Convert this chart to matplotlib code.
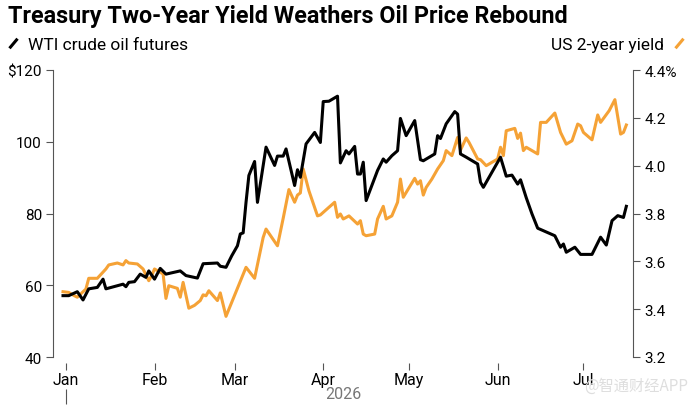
import pandas as pd
import matplotlib
matplotlib.use('Agg')
import matplotlib.pyplot as plt
import matplotlib.dates as mdates
from matplotlib.lines import Line2D

plt.rcParams['font.family'] = ['Roboto', 'DejaVu Sans']

# WTI crude oil futures ($/bbl)
oil_dates = ['2025-12-31', '2026-01-02', '2026-01-05', '2026-01-07', '2026-01-09', '2026-01-12',
             '2026-01-14', '2026-01-15', '2026-01-21', '2026-01-22', '2026-01-23', '2026-01-25',
             '2026-01-27', '2026-01-29', '2026-01-30', '2026-02-01', '2026-02-03', '2026-02-05',
             '2026-02-10', '2026-02-12', '2026-02-16', '2026-02-18', '2026-02-23', '2026-02-24',
             '2026-02-26', '2026-02-28', '2026-03-02', '2026-03-03', '2026-03-04', '2026-03-05',
             '2026-03-06', '2026-03-08', '2026-03-09', '2026-03-12', '2026-03-15', '2026-03-16',
             '2026-03-18', '2026-03-19', '2026-03-22', '2026-03-23', '2026-03-24', '2026-03-26',
             '2026-03-29', '2026-03-31', '2026-04-01', '2026-04-03', '2026-04-06', '2026-04-07',
             '2026-04-09', '2026-04-10', '2026-04-12', '2026-04-13', '2026-04-14', '2026-04-15',
             '2026-04-16', '2026-04-20', '2026-04-22', '2026-04-23', '2026-04-25', '2026-04-27',
             '2026-04-28', '2026-04-30', '2026-05-03', '2026-05-05', '2026-05-06', '2026-05-10',
             '2026-05-11', '2026-05-12', '2026-05-14', '2026-05-17', '2026-05-18', '2026-05-19',
             '2026-05-21', '2026-05-25', '2026-05-26', '2026-05-27', '2026-06-02', '2026-06-04',
             '2026-06-06', '2026-06-08', '2026-06-09', '2026-06-11', '2026-06-13', '2026-06-15',
             '2026-06-17', '2026-06-21', '2026-06-23', '2026-06-24', '2026-06-25', '2026-06-28',
             '2026-06-30', '2026-07-04', '2026-07-07', '2026-07-09', '2026-07-11', '2026-07-13',
             '2026-07-15', '2026-07-16']
oil_price = [57.1, 57.1, 58.2, 55.9, 59.0, 59.4,
             61.7, 59.0, 60.3, 59.6, 60.8, 61.0,
             63.1, 62.2, 64.0, 61.7, 64.7, 63.1,
             64.0, 62.7, 62.0, 66.0, 66.2, 65.3,
             65.0, 68.2, 71.0, 74.3, 74.6, 83.1,
             90.6, 94.5, 83.1, 98.5, 93.4, 96.0,
             96.0, 98.0, 87.8, 92.2, 90.1, 99.4,
             102.6, 99.8, 111.2, 111.3, 112.7, 94.1,
             97.5, 96.6, 98.7, 91.0, 91.0, 94.3,
             83.6, 92.0, 95.2, 94.3, 96.1, 97.5,
             106.5, 101.7, 105.9, 95.0, 94.7, 96.6,
             101.7, 100.9, 105.0, 108.4, 107.7, 96.6,
             95.7, 93.8, 88.7, 87.3, 95.7, 90.4,
             90.7, 88.2, 89.4, 84.4, 79.9, 75.9,
             75.2, 73.8, 70.6, 71.5, 69.2, 70.6,
             68.6, 68.6, 73.4, 71.2, 78.0, 79.4,
             78.9, 82.0]

# US 2-year Treasury yield (%)
yield_dates = ['2025-12-31', '2026-01-02', '2026-01-04', '2026-01-05', '2026-01-08', '2026-01-09',
               '2026-01-12', '2026-01-15', '2026-01-16', '2026-01-19', '2026-01-21', '2026-01-22',
               '2026-01-23', '2026-01-26', '2026-01-28', '2026-01-30', '2026-01-31', '2026-02-01',
               '2026-02-02', '2026-02-04', '2026-02-05', '2026-02-06', '2026-02-09', '2026-02-10',
               '2026-02-11', '2026-02-13', '2026-02-15', '2026-02-17', '2026-02-18', '2026-02-19',
               '2026-02-20', '2026-02-23', '2026-02-24', '2026-02-26', '2026-03-05', '2026-03-08',
               '2026-03-11', '2026-03-12', '2026-03-16', '2026-03-18', '2026-03-20', '2026-03-22',
               '2026-03-23', '2026-03-24', '2026-03-25', '2026-03-27', '2026-03-30', '2026-03-31',
               '2026-04-03', '2026-04-05', '2026-04-06', '2026-04-07', '2026-04-08', '2026-04-10',
               '2026-04-13', '2026-04-14', '2026-04-15', '2026-04-16', '2026-04-19', '2026-04-20',
               '2026-04-22', '2026-04-23', '2026-04-25', '2026-04-27', '2026-04-28', '2026-04-29',
               '2026-05-03', '2026-05-04', '2026-05-05', '2026-05-06', '2026-05-07', '2026-05-09',
               '2026-05-11', '2026-05-13', '2026-05-14', '2026-05-16', '2026-05-18', '2026-05-19',
               '2026-05-21', '2026-05-22', '2026-05-25', '2026-05-26', '2026-05-28', '2026-06-01',
               '2026-06-02', '2026-06-03', '2026-06-04', '2026-06-07', '2026-06-08', '2026-06-09',
               '2026-06-10', '2026-06-11', '2026-06-15', '2026-06-16', '2026-06-18', '2026-06-21',
               '2026-06-23', '2026-06-25', '2026-06-27', '2026-06-29', '2026-06-30', '2026-07-01',
               '2026-07-04', '2026-07-06', '2026-07-07', '2026-07-10', '2026-07-12', '2026-07-14',
               '2026-07-15', '2026-07-16']
yield_pct = [3.473, 3.470, 3.456, 3.450, 3.484, 3.529,
             3.529, 3.568, 3.585, 3.593, 3.585, 3.603,
             3.593, 3.589, 3.568, 3.519, 3.540, 3.568,
             3.561, 3.547, 3.445, 3.498, 3.487, 3.450,
             3.512, 3.404, 3.416, 3.436, 3.460, 3.456,
             3.477, 3.436, 3.468, 3.370, 3.575, 3.529,
             3.700, 3.735, 3.665, 3.780, 3.900, 3.847,
             3.877, 3.886, 3.986, 3.895, 3.790, 3.794,
             3.826, 3.847, 3.784, 3.798, 3.777, 3.790,
             3.756, 3.770, 3.714, 3.707, 3.714, 3.777,
             3.830, 3.777, 3.790, 3.847, 3.944, 3.868,
             3.947, 3.923, 3.937, 3.877, 3.909, 3.944,
             3.986, 4.021, 4.063, 4.042, 4.118, 4.065,
             4.116, 4.097, 4.028, 4.025, 4.000, 4.028,
             4.077, 4.042, 4.146, 4.156, 4.114, 4.136,
             4.063, 4.077, 4.049, 4.181, 4.181, 4.220,
             4.139, 4.090, 4.104, 4.174, 4.167, 4.139,
             4.108, 4.212, 4.181, 4.230, 4.276, 4.132,
             4.139, 4.170]

month_starts = ['2026-01-01', '2026-02-01', '2026-03-01', '2026-04-01',
                '2026-05-01', '2026-06-01', '2026-07-01']
month_labels = ['Jan', 'Feb', 'Mar', 'Apr', 'May', 'Jun', 'Jul']
oil_ticks = [40, 60, 80, 100, 120]
oil_tick_labels = ['40', '60', '80', '100', '$120']
yield_ticks = [3.2, 3.4, 3.6, 3.8, 4.0, 4.2, 4.4]
yield_tick_labels = ['3.2', '3.4', '3.6', '3.8', '4.0', '4.2', '4.4%']

orange = '#f5a236'
axis_grey = '#555555'

fig = plt.figure(figsize=(6.9, 4.06), dpi=100)
ax = fig.add_axes([53 / 690, 1 - 358 / 406, 580 / 690, 287 / 406])
ax2 = ax.twinx()

ax2.plot(pd.to_datetime(yield_dates), yield_pct, color=orange, lw=2.2)
ax.plot(pd.to_datetime(oil_dates), oil_price, color='black', lw=2.2)
ax.set_zorder(ax2.get_zorder() + 1)
ax.patch.set_visible(False)

ax.set_xlim(pd.Timestamp('2025-12-27 12:00'), pd.Timestamp('2026-07-18 08:00'))
ax.set_ylim(40, 120)
ax2.set_ylim(3.2, 4.4)

for s in ['top', 'right', 'bottom']:
    ax.spines[s].set_visible(False)
for s in ['top', 'left', 'bottom']:
    ax2.spines[s].set_visible(False)
ax.spines['left'].set_color(axis_grey)
ax2.spines['right'].set_color(axis_grey)

ax.set_yticks(oil_ticks)
ax.set_yticklabels(oil_tick_labels)
ax2.set_yticks(yield_ticks)
ax2.set_yticklabels(yield_tick_labels)
ax.tick_params(axis='y', length=5, color=axis_grey, labelsize=11, pad=3)
ax2.tick_params(axis='y', length=5, color=axis_grey, labelsize=11, pad=3)

ax.set_xticks(pd.to_datetime(month_starts))
ax.set_xticklabels(month_labels)
ax.spines['bottom'].set_position(('outward', 4))
ax.tick_params(axis='x', length=5, color=axis_grey, labelsize=11.5, pad=2)

# year marker below the January label
sec = ax.secondary_xaxis(-32 / 287)
sec.set_xticks([mdates.date2num(pd.Timestamp(month_starts[0]))])
sec.set_xticklabels([''])
sec.tick_params(length=11, color=axis_grey)
sec.spines['bottom'].set_visible(False)
ax.text(0.5, -37 / 287, '2026', transform=ax.transAxes, ha='center', va='center',
        color='#777777', fontsize=11.5)

fig.text(8 / 690, 1 - 17 / 406, 'Treasury Two-Year Yield Weathers Oil Price Rebound',
         fontsize=16.8, fontweight='bold', va='center', ha='left')

h_oil = Line2D([], [], color='black', marker=(2, 0, -40), markersize=9, mew=2.2, lw=0)
h_yld = Line2D([], [], color=orange, marker=(2, 0, -40), markersize=9, mew=2.2, lw=0)
fig.legend(handles=[h_oil], labels=['WTI crude oil futures'], loc='center left',
           bbox_to_anchor=(4 / 690, 1 - 45 / 406), frameon=False, fontsize=12.5,
           handlelength=1.0, handletextpad=0.4, borderpad=0, borderaxespad=0)
fig.legend(handles=[h_yld], labels=['US 2-year yield'], loc='center right',
           bbox_to_anchor=(688 / 690, 1 - 45 / 406), frameon=False, fontsize=12.5,
           handlelength=1.0, handletextpad=0.4, borderpad=0, borderaxespad=0,
           markerfirst=False)

fig.text(688 / 690, 1 - 386 / 406, '@智通财经APP', ha='right', va='center',
         color='#dedede', fontsize=11, family=['Noto Sans CJK SC', 'DejaVu Sans'])

fig.savefig('out.png', dpi=100)
